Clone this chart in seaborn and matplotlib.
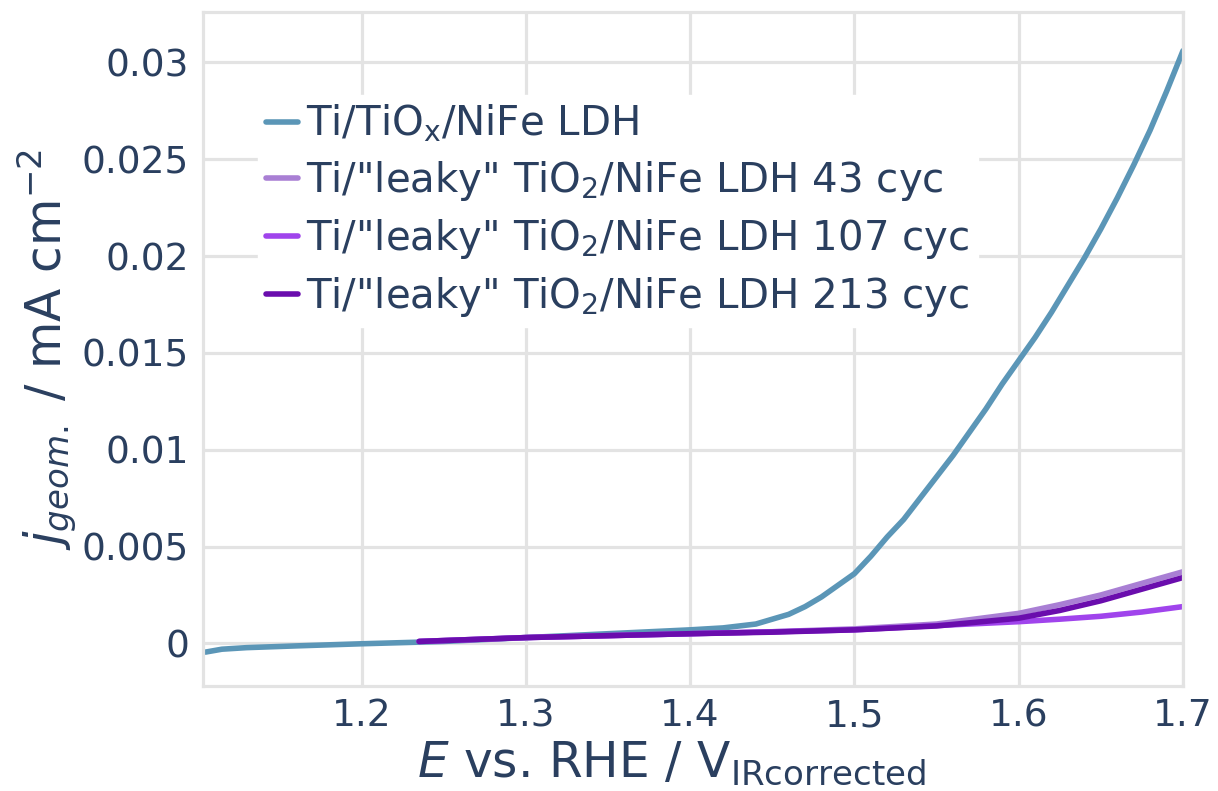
import matplotlib
matplotlib.use("Agg")
import matplotlib.pyplot as plt
import seaborn as sns
import pandas as pd

# ---- data ----
x_tiox = [1.105, 1.115, 1.13, 1.16, 1.2, 1.25, 1.3, 1.35, 1.4, 1.42, 1.44, 1.45, 1.46, 1.47,
          1.48, 1.49, 1.50, 1.51, 1.52, 1.53, 1.54, 1.55, 1.56, 1.57, 1.58, 1.59, 1.60,
          1.61, 1.62, 1.63, 1.64, 1.65, 1.66, 1.67, 1.68, 1.69, 1.70]
y_tiox = [-0.00045, -0.0003, -0.00022, -0.00013, -0.00002, 0.0001, 0.0003, 0.0005, 0.0007,
          0.0008, 0.001, 0.00125, 0.0015, 0.0019, 0.0024, 0.0030, 0.0036, 0.0045, 0.0055,
          0.0064, 0.0075, 0.0086, 0.0097, 0.0109, 0.0121, 0.0134, 0.0146, 0.0158, 0.0171,
          0.0185, 0.0199, 0.0214, 0.0230, 0.0247, 0.0265, 0.0285, 0.0306]

x_leaky = [1.235, 1.3, 1.35, 1.4, 1.45, 1.5, 1.55, 1.6, 1.625, 1.65, 1.675, 1.7]
y_43 = [0.0001, 0.0003, 0.0004, 0.0005, 0.0006, 0.00075, 0.001, 0.00155, 0.002, 0.0025, 0.0031, 0.0037]
y_107 = [0.0001, 0.0003, 0.0004, 0.0005, 0.0006, 0.0007, 0.00092, 0.00112, 0.00125, 0.0014, 0.00162, 0.0019]
y_213 = [0.0001, 0.0003, 0.0004, 0.0005, 0.00058, 0.0007, 0.0009, 0.0013, 0.0017, 0.0022, 0.0028, 0.0034]

series_names = ["Ti/TiO$_\\mathsf{x}$/NiFe LDH",
                "Ti/\"leaky\" TiO$_\\mathsf{2}$/NiFe LDH 43 cyc",
                "Ti/\"leaky\" TiO$_\\mathsf{2}$/NiFe LDH 107 cyc",
                "Ti/\"leaky\" TiO$_\\mathsf{2}$/NiFe LDH 213 cyc"]
colors = ["#5b96b7", "#a97fd4", "#a044ec", "#6a0dad"]

x_ticks = [1.2, 1.3, 1.4, 1.5, 1.6, 1.7]
y_ticks = [0, 0.005, 0.01, 0.015, 0.02, 0.025, 0.03]
y_ticklabels = ["0", "0.005", "0.01", "0.015", "0.02", "0.025", "0.03"]

sns.set_theme(style="white")
plt.rcParams["font.family"] = ["DejaVu Sans"]
plt.rcParams["font.sans-serif"] = ["DejaVu Sans"]
plt.rcParams["mathtext.fontset"] = "dejavusans"

txt = "#2a3f5f"
grid = "#e3e3e3"
FAM = "DejaVu Sans"

frames = [pd.DataFrame({"E": x_tiox, "j": y_tiox, "s": series_names[0]})]
for name, ys in zip(series_names[1:], [y_43, y_107, y_213]):
    frames.append(pd.DataFrame({"E": x_leaky, "j": ys, "s": name}))
df = pd.concat(frames, ignore_index=True)

fig = plt.figure(figsize=(12.18, 7.91), dpi=100)
ax = fig.add_axes([203 / 1218, 1 - 686 / 791, (1183 - 203) / 1218, (686 - 12) / 791])

sns.lineplot(data=df, x="E", y="j", hue="s", hue_order=series_names,
             palette=colors, linewidth=4.0, sort=False, ax=ax, estimator=None)

ax.set_xlim(1.1035, 1.7)
ax.set_ylim(-0.0022, 0.0326)
ax.set_xticks(x_ticks)
ax.set_xticklabels([f"{v:.1f}" for v in x_ticks], family=FAM)
ax.set_yticks(y_ticks)
ax.set_yticklabels(y_ticklabels, family=FAM)
ax.tick_params(axis="both", colors=txt, labelsize=27, length=0)
ax.tick_params(axis="y", pad=10)
ax.tick_params(axis="x", pad=9)
ax.grid(True, color=grid, linewidth=2.3)
ax.set_axisbelow(True)
for sp in ax.spines.values():
    sp.set_color(grid)
    sp.set_linewidth(2.3)

ax.set_xlabel("$\\mathit{E}$ vs. RHE / V$_{\\mathrm{IRcorrected}}$",
              fontsize=35, color=txt, family=FAM, va="top")
ax.xaxis.set_label_coords((671 - 203) / 980, (686 - 739) / 674)
ax.set_ylabel("$\\mathit{j}_{\\mathit{geom.}}$ / mA cm$^{\\mathrm{-2}}$",
              fontsize=35, color=txt, family=FAM, labelpad=2)

leg = ax.legend(loc="upper left", bbox_to_anchor=(258 / 1218, 1 - 95 / 791),
                bbox_transform=fig.transFigure, frameon=True, fancybox=False,
                facecolor="white", edgecolor="white", framealpha=1,
                prop={"family": FAM, "size": 29}, handlelength=0.8,
                handletextpad=0.2, labelspacing=0.35, borderpad=0.2, borderaxespad=0)
for line in leg.get_lines():
    line.set_linewidth(4.0)
for t in leg.get_texts():
    t.set_color(txt)

fig.savefig("out.png", dpi=100)
